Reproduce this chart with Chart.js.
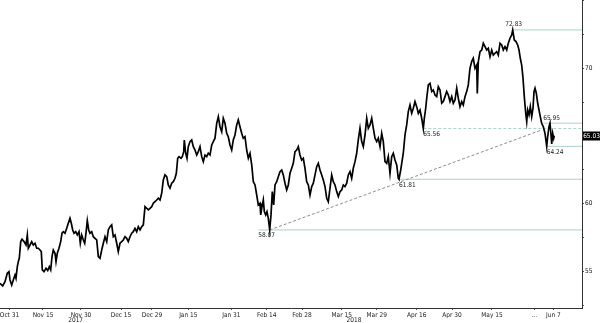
<!DOCTYPE html>
<html><head><meta charset="utf-8">
<script src="https://cdn.jsdelivr.net/npm/chart.js@4/dist/chart.umd.min.js"></script>
<style>html,body{margin:0;padding:0;background:#fff}#wrap{width:600px;height:323px;position:relative}</style>
</head><body><div id="wrap"><canvas id="c" width="600" height="323"></canvas></div>
<script>
// x values are trading-day positions from the first plotted session
const days = [
0,0.78,1.44,2.10,2.59,2.88,3.37,3.83,4.32,4.61,4.99,5.27,5.56,5.97,6.34,6.92,7.49,7.87,8.16,8.65,9.14,9.60,10.09,10.58,11.04,11.53,11.90,12.19,12.68,13.26,13.75,14.21,14.61,14.99,15.36,15.85,16.14,16.51,17.00,17.49,17.87,18.24,18.73,19.22,19.68,20.17,20.55,20.95,21.33,21.82,22.28,22.77,23.14,23.54,24.01,24.41,24.78,25.16,25.56,25.94,26.43,26.89,27.38,
27.87,28.33,28.82,29.31,29.77,30.26,30.75,31.21,31.70,32.19,32.65,33.14,33.63,34.09,34.58,35.07,35.53,36.02,36.51,36.97,37.46,37.95,38.41,38.90,39.39,39.86,40.35,40.84,41.30,41.79,42.28,42.74,43.23,43.72,44.18,44.67,45.16,45.62,46.11,46.60,47.06,47.55,48.04,48.50,48.99,49.48,49.94,50.43,50.81,51.21,51.58,52.16,52.54,52.94,53.11,53.51,53.89,54.26,54.75,55.24,55.71,
56.20,56.69,57.15,57.64,58.13,58.59,59.08,59.57,60.03,60.52,61.01,61.47,61.96,62.45,62.91,63.40,63.89,64.35,64.84,65.33,65.79,66.28,66.77,67.23,67.72,68.21,68.67,69.16,69.65,70.11,70.60,71.09,71.56,72.05,72.54,73.00,73.49,73.98,74.44,74.93,75.13,75.42,75.88,76.17,76.57,76.94,77.32,77.72,78.10,78.47,78.87,79.25,79.74,80.20,80.69,81.18,81.64,82.13,82.62,83.08,83.57,84.06,84.52,
85.01,85.50,85.96,86.45,86.94,87.41,87.89,88.38,88.85,89.34,89.83,90.29,90.78,91.27,91.73,92.22,92.71,93.17,93.66,94.15,94.61,95.10,95.59,96.05,96.54,97.03,97.49,97.98,98.47,98.93,99.42,99.91,100.37,100.86,101.35,101.81,102.30,102.79,103.25,103.74,104.23,104.70,105.19,105.68,106.14,106.63,107.12,107.58,108.07,108.56,109.02,109.51,110.00,110.46,110.95,111.44,111.90,112.39,112.88,113.34,113.83,114.32,114.78,114.98,
115.47,116.22,116.71,117.20,117.66,118.15,118.64,119.11,119.59,120.08,120.55,121.04,121.53,121.99,122.28,122.68,122.97,123.43,123.92,124.41,124.87,125.36,125.85,126.31,126.80,127.29,127.75,128.24,128.73,129.19,129.68,130.17,130.63,131.12,131.61,132.07,132.56,133.05,133.51,134.00,134.49,134.95,135.44,135.93,136.39,136.89,137.38,137.55,137.84,138.33,138.82,139.28,139.77,140.26,140.72,141.21,141.70,142.16,
142.65,143.14,143.60,144.09,144.58,145.04,145.53,146.02,146.48,146.97,147.46,147.75,148.21,148.70,149.19,149.57,149.94,150.34,150.72,151.09,151.50,151.79,152.07,152.45,152.82,153.22,153.60,153.89,154.18,154.55,154.95,155.33,155.70,156.10,156.57,157.06,157.55,157.83,158.21,158.50,158.79,158.99,159.28,159.56,159.74
];
const prices = [
54.13,53.94,54.25,54.87,54.99,54.38,54.01,54.38,54.75,54.50,55.36,55.73,55.98,57.21,57.38,57.21,56.96,57.70,56.72,56.96,57.21,56.96,57.09,56.72,56.72,56.59,56.47,55.12,54.99,55.24,55.07,55.36,55.12,56.10,56.59,56.35,55.73,56.35,56.72,57.21,57.83,57.94,57.83,58.19,58.56,58.93,58.56,58.07,57.83,57.94,57.70,57.94,57.09,57.70,57.33,57.09,57.83,58.75,58.07,57.83,57.94,57.57,57.45,
57.33,56.10,55.98,56.59,57.09,57.57,57.21,58.07,58.31,58.44,57.57,57.70,57.09,56.47,57.09,57.21,57.33,57.57,57.45,57.21,57.57,57.83,57.94,58.19,57.94,58.31,58.07,58.31,58.44,59.79,59.67,59.55,59.67,59.79,60.04,60.16,60.28,60.41,60.28,60.78,61.76,62.13,62.00,61.39,61.15,61.52,61.63,61.88,62.25,63.36,63.48,63.36,63.48,63.85,64.71,63.73,63.36,64.22,64.59,64.71,64.22,
63.97,63.60,63.85,64.22,63.48,63.11,63.60,63.48,63.73,63.60,64.34,64.59,64.84,65.94,66.43,65.69,65.32,66.31,65.94,65.20,64.95,64.34,63.97,64.71,65.08,65.82,66.19,65.69,65.20,64.84,64.95,63.97,63.36,63.73,62.87,61.63,61.39,60.65,59.91,60.04,59.18,59.67,60.28,59.42,59.18,59.42,58.93,58.07,59.18,60.90,59.91,61.39,61.63,62.00,62.37,62.49,62.13,61.52,61.02,61.39,62.25,62.62,62.99,
63.85,63.97,64.22,63.60,63.23,63.36,62.62,61.63,61.39,60.65,61.27,61.52,62.13,62.74,62.99,62.49,62.13,61.76,61.27,60.41,60.16,61.15,62.13,61.63,61.39,60.90,60.53,60.90,61.02,61.39,61.27,61.52,62.13,62.37,61.88,62.62,63.11,63.73,64.71,65.57,64.59,64.22,65.08,66.31,65.57,65.82,66.31,65.57,64.84,64.59,64.84,64.22,65.20,64.59,63.11,62.99,63.48,62.25,63.48,63.73,63.23,62.87,61.88,61.81,
62.49,63.73,65.08,65.82,66.80,67.29,66.68,67.05,67.54,67.17,66.68,66.92,66.31,65.56,66.31,67.05,67.79,68.77,68.89,68.28,68.40,68.03,67.91,68.64,68.40,67.42,67.54,67.91,68.28,68.03,67.54,67.91,67.42,67.66,68.53,67.79,67.17,67.54,67.29,67.91,68.28,68.77,70.00,70.49,70.74,70.00,70.24,68.15,70.49,71.23,71.35,71.85,71.60,71.35,71.48,70.86,71.35,70.98,
71.11,71.23,70.98,71.85,71.72,71.35,71.60,71.35,71.85,72.22,72.46,72.83,72.09,71.97,71.72,71.35,70.74,70.24,69.27,67.91,66.68,66.06,66.92,66.56,67.17,66.43,67.05,68.28,68.53,68.16,67.42,66.92,66.43,65.94,65.69,65.20,64.24,64.95,65.69,65.95,65.08,64.42,65.20,64.84,65.03
];
const xMax = 167.72;
const tickDays   = [2.74,12.39,23.34,34.87,43.80,54.26,66.66,76.86,87.03,98.47,108.56,120.08,130.26,141.78,153.97,159.45];
const tickLabels = ['Oct 31','Nov 15','Nov 30','Dec 15','Dec 29','Jan 15','Jan 31','Feb 14','Feb 28','Mar 15','Mar 29','Apr 16','Apr 30','May 15','...','Jun 7'];
const yearDays   = [21.8,102.0];
const yearLabels = ['2017','2018'];
const yMin = 52.31, yMax = 75.04;
const yTicks = [52.5,55,57.5,60,62.5,65,67.5,70,72.5,75];
const yLabelled = [55,60,65,70];
const levelValues    = [72.83,65.95,65.56,64.24,61.81,58.07];
const levelStartDays = [147.75,156.57,121.99,157.55,114.98,74.44];
const trendDays   = [77.72,156.10];
const trendValues = [58.07,65.45];
const lastValue = 65.03;

const FAMILY = '"Liberation Sans Narrow","DejaVu Sans Condensed","Arial Narrow",sans-serif';
const FS = 6.5;
const LEVEL_COLOR = '#a8d3ca';

const datasets = [{
  data: days.map((d,i)=>({x:d,y:prices[i]})),
  borderColor:'#000', borderWidth:1.7, pointRadius:0, tension:0, order:0
}];
levelValues.forEach((v,i)=>{
  datasets.push({
    data:[{x:levelStartDays[i],y:v},{x:xMax,y:v}],
    borderColor:LEVEL_COLOR, borderWidth:1, pointRadius:0,
    borderDash: v===65.56 ? [3,2] : [], order:2
  });
});
datasets.push({
  data: trendDays.map((d,i)=>({x:d,y:trendValues[i]})),
  borderColor:'#8c8c8c', borderWidth:1, pointRadius:0, borderDash:[3,2], order:1
});

const annot = {
  id:'annot',
  afterDatasetsDraw(chart){
    const {ctx, scales:{x,y}} = chart;
    ctx.save();
    ctx.font = FS+'px '+FAMILY;
    ctx.fillStyle = '#222';
    levelValues.forEach((v,i)=>{
      const px = x.getPixelForValue(levelStartDays[i]);
      const py = y.getPixelForValue(v);
      const txt = v.toFixed(2);
      if (i===0){ ctx.textAlign='center'; ctx.textBaseline='bottom'; ctx.fillText(txt,px+1,py-2); }
      else if (i===1){ ctx.textAlign='left'; ctx.textBaseline='bottom'; ctx.fillText(txt,px,py-1.5); }
      else { ctx.textAlign='left'; ctx.textBaseline='top'; ctx.fillText(txt,px,py+2.5); }
    });
    ctx.restore();
  },
  afterDraw(chart){
    const {ctx, scales:{x,y}, chartArea} = chart;
    const py = y.getPixelForValue(lastValue);
    ctx.save();
    ctx.font = FS+'px '+FAMILY;
    // year labels under the date axis
    ctx.fillStyle = '#222';
    ctx.textAlign='center'; ctx.textBaseline='middle';
    yearDays.forEach((d,i)=>ctx.fillText(yearLabels[i], x.getPixelForValue(d), chartArea.bottom+12.5));
    // last value box
    ctx.fillStyle = '#000';
    ctx.fillRect(chartArea.right+1, Math.round(py)-4.5, 600-chartArea.right-1, 9);
    ctx.fillStyle = '#fff';
    ctx.fillText(lastValue.toFixed(2),(chartArea.right+1+600)/2, Math.round(py)+0.5);
    ctx.restore();
  }
};

function noPad(s){ s.paddingTop=0; s.paddingBottom=0; s.paddingLeft=0; s.paddingRight=0; }

new Chart(document.getElementById('c'),{
  type:'line',
  data:{datasets},
  plugins:[annot],
  options:{
    responsive:false, animation:false, devicePixelRatio:1,
    layout:{padding:0},
    plugins:{legend:{display:false},tooltip:{enabled:false}},
    scales:{
      x:{
        type:'linear', position:'bottom', min:0, max:xMax,
        grid:{drawOnChartArea:false, drawTicks:true, tickLength:2, color:'#555'},
        border:{display:true, color:'#333', width:1},
        ticks:{autoSkip:false, maxRotation:0, padding:1, color:'#222', font:{family:FAMILY,size:FS},
          callback:(v,i)=>tickLabels[i]},
        afterBuildTicks:s=>{s.ticks = tickDays.map(v=>({value:v}));},
        afterFit:s=>{s.height = 15; noPad(s);}
      },
      y:{
        type:'linear', position:'right', min:yMin, max:yMax,
        grid:{drawOnChartArea:false, drawTicks:true, tickLength:2, color:'#555'},
        border:{display:true, color:'#333', width:1},
        ticks:{padding:1, color:'#111', font:{family:FAMILY,size:FS},
          callback:v=> yLabelled.includes(v) ? String(v) : ''},
        afterBuildTicks:s=>{s.ticks = yTicks.map(v=>({value:v}));},
        afterFit:s=>{s.width = 18; noPad(s);}
      }
    }
  }
});
</script></body></html>
